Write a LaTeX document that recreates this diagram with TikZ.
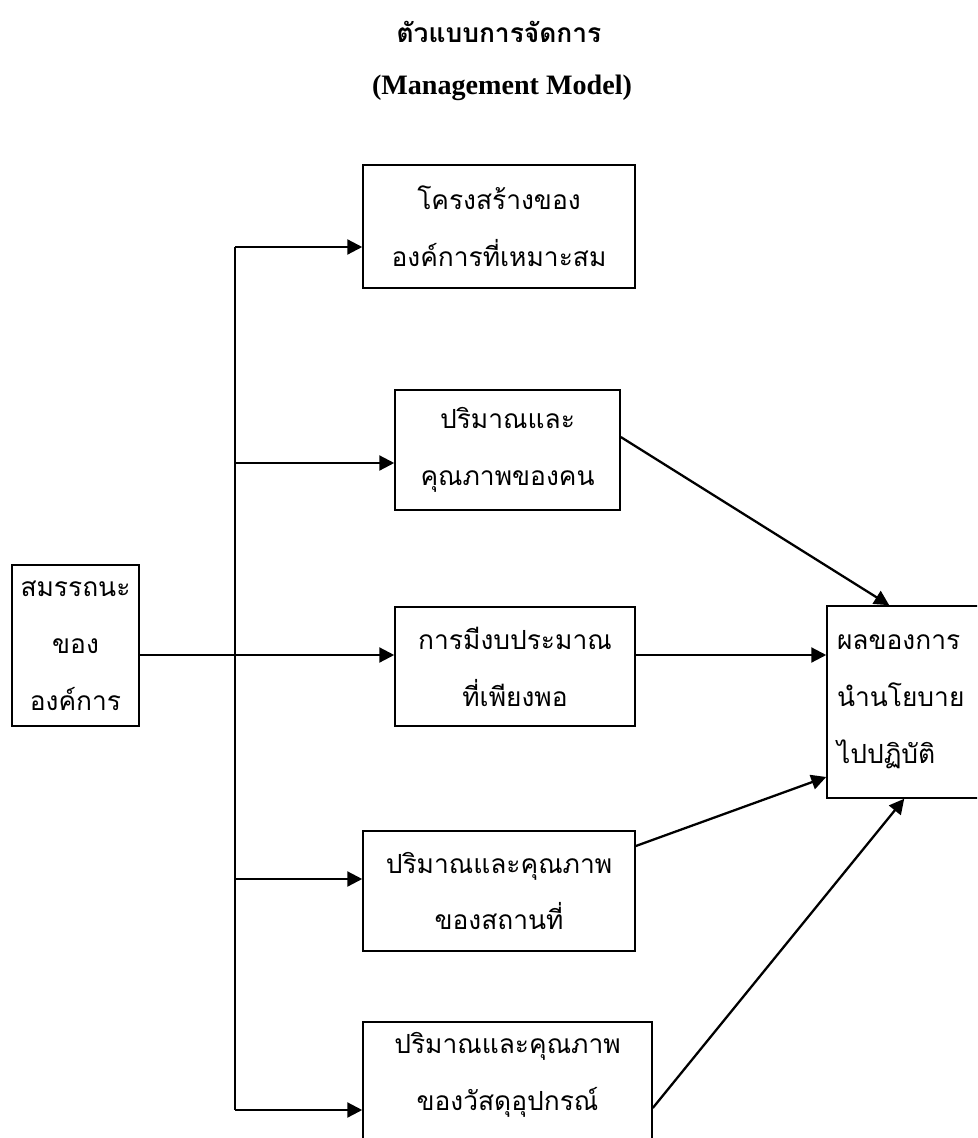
\documentclass[tikz,border=0pt]{standalone}
\usepackage{fontspec}
\setmainfont{Liberation Serif}
\newfontfamily\thaifont[Script=Thai]{Loma}
\usetikzlibrary{arrows.meta}

\begin{document}
\begin{tikzpicture}[x=0.02cm, y=-0.02cm,
  blk/.style={draw, line width=0.9pt, align=center, inner sep=0pt,
    font=\thaifont\fontsize{15}{32.4}\selectfont},
  flow/.style={line width=1.3pt, -{Triangle[length=8.5pt,width=8.5pt]}}]
\clip (0,0) rectangle (977,1138);
% title
\node (title) at (499,32) {\thaifont\bfseries\fontsize{15}{20}\selectfont ตัวแบบการจัดการ};
\node (subtitle) at (502,88) {\bfseries\fontsize{16}{20}\selectfont (Management Model)};
% boxes
\node[blk, minimum width=5.44cm, minimum height=2.46cm] (struct) at (499,226.5) {โครงสร้างของ\\องค์การที่เหมาะสม};
\node[blk, minimum width=4.5cm, minimum height=2.4cm] (staff) at (507.5,450) {ปริมาณและ\\คุณภาพของคน};
\node[blk, minimum width=4.8cm, minimum height=2.38cm] (budget) at (515,666.5) {การมีงบประมาณ\\ที่เพียงพอ};
\node[blk, minimum width=5.44cm, minimum height=2.4cm] (place) at (499,891) {ปริมาณและคุณภาพ\\ของสถานที่};
\node[blk, minimum width=5.78cm, minimum height=3.12cm] (equip) at (507.5,1100) {ปริมาณและคุณภาพ\\ของวัสดุอุปกรณ์\\~};
\node[blk, minimum width=2.54cm, minimum height=3.22cm] (comp) at (75.5,645.5) {สมรรถนะ\\ของ\\องค์การ};
\node[blk, align=left, text width=3cm, inner xsep=0.2cm, minimum height=3.84cm] (outcome) at (912,702) {ผลของการ\\นำนโยบาย\\ไปปฏิบัติ};
% branch points on the bus
\coordinate (b1) at (235,247);
\coordinate (b2) at (235,463);
\coordinate (b3) at (235,655);
\coordinate (b4) at (235,879);
\coordinate (b5) at (235,1110);
\draw[line width=1.3pt] (b1) -- (b5);
\draw[flow] (b1) -- (b1 -| struct.west);
\draw[flow] (b2) -- (b2 -| staff.west);
\draw[flow] (comp.east |- b3) -- (b3 -| budget.west);
\draw[flow] (b4) -- (b4 -| place.west);
\draw[flow] (b5) -- (b5 -| equip.west);
% into the outcome
\draw[flow] ([yshift=0.26cm]staff.east) -- ([xshift=1.26cm]outcome.north west);
\draw[flow] (budget.east |- b3) -- (b3 -| outcome.west);
\draw[flow] ([yshift=0.9cm]place.east) -- ([yshift=-1.5cm]outcome.west);
\draw[flow] ([yshift=-0.16cm]equip.east) -- ([xshift=1.56cm]outcome.south west);
\end{tikzpicture}
\end{document}
